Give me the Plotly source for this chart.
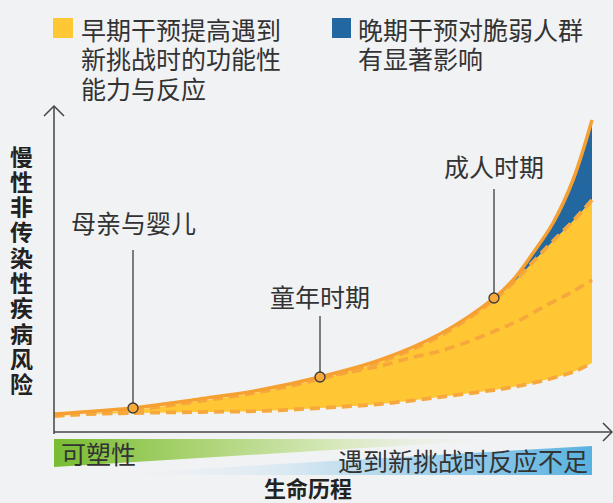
import plotly.graph_objects as go

# ---- data (x = life course position, h = NCD risk level) ----
x_grid = [54, 133, 200, 260, 320, 380, 440, 494, 513, 533, 553, 573, 592]
top_risk = [18, 24, 33, 42, 55, 72, 98, 134, 152, 179, 209, 252, 312]
upper_risk = [16, 22, 31, 40, 53, 70, 96, 132, 149, 170, 191, 211, 232]
bottom_risk = [17, 19, 20, 21, 24, 28, 35, 42, 45, 49, 54, 60, 69]
mid_x = [320, 350, 380, 410, 440, 470, 497, 520, 545, 570, 592]
mid_risk = [55, 60, 66, 74, 81, 91, 102, 112, 126, 139, 152]

stage_labels = ["母亲与婴儿", "童年时期", "成人时期"]
stage_x = [133, 320, 494]
stage_risk = [24, 55, 134]
stage_label_h = [210, 136, 266]
stage_line_top = [182, 116, 243]

legend_yellow = ["早期干预提高遇到", "新挑战时的功能性", "能力与反应"]
legend_blue = ["晚期干预对脆弱人群", "有显著影响"]
y_title = "慢性非传染性疾病风险"
x_title = "生命历程"
plastic_label = "可塑性"
deficit_label = "遇到新挑战时反应不足"

FONT = "Noto Sans CJK SC"
BG = "#F1F2F4"
ORANGE = "#F5A030"
DASH_OR = "#F7A83C"
YELLOW = "#FFC733"
BLUE = "#22679F"
TXT = "#333333"

fig = go.Figure()

# gradient wedges
fig.add_trace(go.Scatter(
    x=[54, 509, 54, 54], y=[-7, -7, -35, -7], mode="lines", fill="toself",
    line=dict(width=0, color="rgba(0,0,0,0)"),
    fillgradient=dict(type="horizontal", colorscale=[
        [0, "rgba(120,188,50,1)"], [0.3, "rgba(168,210,112,1)"],
        [0.6, "rgba(212,231,182,1)"], [1, "rgba(240,242,240,0)"]]),
    hoverinfo="skip", showlegend=False))
fig.add_trace(go.Scatter(
    x=[90, 592, 592, 90], y=[-43, -14, -43, -43], mode="lines", fill="toself",
    line=dict(width=0, color="rgba(0,0,0,0)"),
    fillgradient=dict(type="horizontal", colorscale=[
        [0, "rgba(241,242,244,0)"], [0.4, "rgba(216,232,242,1)"],
        [0.75, "rgba(145,202,233,1)"], [1, "rgba(88,178,224,1)"]]),
    hoverinfo="skip", showlegend=False))

# yellow band
fig.add_trace(go.Scatter(x=x_grid, y=bottom_risk, mode="lines",
                         line=dict(width=0, shape="spline", color="rgba(0,0,0,0)"),
                         hoverinfo="skip", showlegend=False))
fig.add_trace(go.Scatter(x=x_grid, y=upper_risk, mode="lines", fill="tonexty",
                         fillcolor=YELLOW,
                         line=dict(width=0, shape="spline", color="rgba(0,0,0,0)"),
                         hoverinfo="skip", showlegend=False))
# blue band
bx = x_grid[7:]
fig.add_trace(go.Scatter(x=bx, y=upper_risk[7:], mode="lines",
                         line=dict(width=0, shape="spline", color="rgba(0,0,0,0)"),
                         hoverinfo="skip", showlegend=False))
fig.add_trace(go.Scatter(x=bx, y=top_risk[7:], mode="lines", fill="tonexty",
                         fillcolor=BLUE,
                         line=dict(width=0, shape="spline", color="rgba(0,0,0,0)"),
                         hoverinfo="skip", showlegend=False))

# dashed lines
for xs, ys in [(x_grid, bottom_risk), (mid_x, mid_risk), (x_grid, upper_risk)]:
    fig.add_trace(go.Scatter(x=xs, y=ys, mode="lines",
                             line=dict(width=3.8, shape="spline", color=DASH_OR,
                                       dash="10px,6px"),
                             hoverinfo="skip", showlegend=False))
# top solid
fig.add_trace(go.Scatter(x=x_grid, y=top_risk, mode="lines",
                         line=dict(width=3.5, shape="spline", color=ORANGE),
                         hoverinfo="skip", showlegend=False))

# stage pointer lines
for sx, sy, st in zip(stage_x, stage_risk, stage_line_top):
    fig.add_trace(go.Scatter(x=[sx, sx], y=[sy, st], mode="lines",
                             line=dict(width=1.5, color="#555555"),
                             hoverinfo="skip", showlegend=False))
fig.add_trace(go.Scatter(x=stage_x, y=stage_risk, mode="markers",
                         marker=dict(size=10, color="#F7A93A",
                                     line=dict(width=1.3, color="#3a3a3a")),
                         hoverinfo="skip", showlegend=False))

ann = []
for lab, sx, ly in zip(stage_labels, stage_x, stage_label_h):
    ann.append(dict(x=sx, y=ly, text=lab, showarrow=False, xanchor="center",
                    yanchor="middle", font=dict(family=FONT, size=25, color=TXT)))

# legend texts
for i, t in enumerate(legend_yellow):
    ann.append(dict(x=79, y=432 - (28 + 29.5 * i), text=t, showarrow=False,
                    xanchor="left", yanchor="middle", height=29,
                    font=dict(family=FONT, size=25, color=TXT)))
for i, t in enumerate(legend_blue):
    ann.append(dict(x=356, y=432 - (28 + 29.5 * i), text=t, showarrow=False,
                    xanchor="left", yanchor="middle", height=29,
                    font=dict(family=FONT, size=25, color=TXT)))

# y title stacked, one character per row
for i, ch in enumerate(y_title):
    ann.append(dict(x=21, y=432 - (155 + 25.3 * i), text="<b>%s</b>" % ch, showarrow=False,
                    xanchor="center", yanchor="middle", height=25,
                    font=dict(family=FONT, size=23, color="#222222")))

ann.append(dict(x=308, y=-55, text="<b>%s</b>" % x_title, showarrow=False,
                xanchor="center", yanchor="middle",
                font=dict(family=FONT, size=22, color="#222222")))
ann.append(dict(x=59, y=-21, text=plastic_label, showarrow=False,
                xanchor="left", yanchor="middle",
                font=dict(family=FONT, size=25, color=TXT)))
ann.append(dict(x=590, y=-28, text=deficit_label, showarrow=False,
                xanchor="right", yanchor="middle",
                font=dict(family=FONT, size=25, color=TXT)))

AX = "#444444"
shapes = [
    dict(type="rect", x0=53, x1=73, y0=432 - 38, y1=432 - 18, fillcolor=YELLOW,
         line=dict(width=0), layer="above"),
    dict(type="rect", x0=332, x1=351, y0=432 - 38, y1=432 - 18, fillcolor=BLUE,
         line=dict(width=0), layer="above"),
    dict(type="line", x0=54, x1=54, y0=-2, y1=326, line=dict(color=AX, width=1.5)),
    dict(type="path", path="M44,316 L54,326 L64,316", line=dict(color=AX, width=1.5)),
    dict(type="line", x0=54, x1=611, y0=0, y1=0, line=dict(color=AX, width=1.5)),
    dict(type="path", path="M603,9 L612,0 L603,-9", line=dict(color=AX, width=1.5)),
]

fig.update_layout(
    width=613, height=503, margin=dict(l=0, r=0, t=0, b=0),
    paper_bgcolor=BG, plot_bgcolor=BG,
    xaxis=dict(range=[0, 613], visible=False, fixedrange=True),
    yaxis=dict(range=[-71, 432], visible=False, fixedrange=True),
    annotations=ann, shapes=shapes, showlegend=False,
)
fig.write_html("out.html")
